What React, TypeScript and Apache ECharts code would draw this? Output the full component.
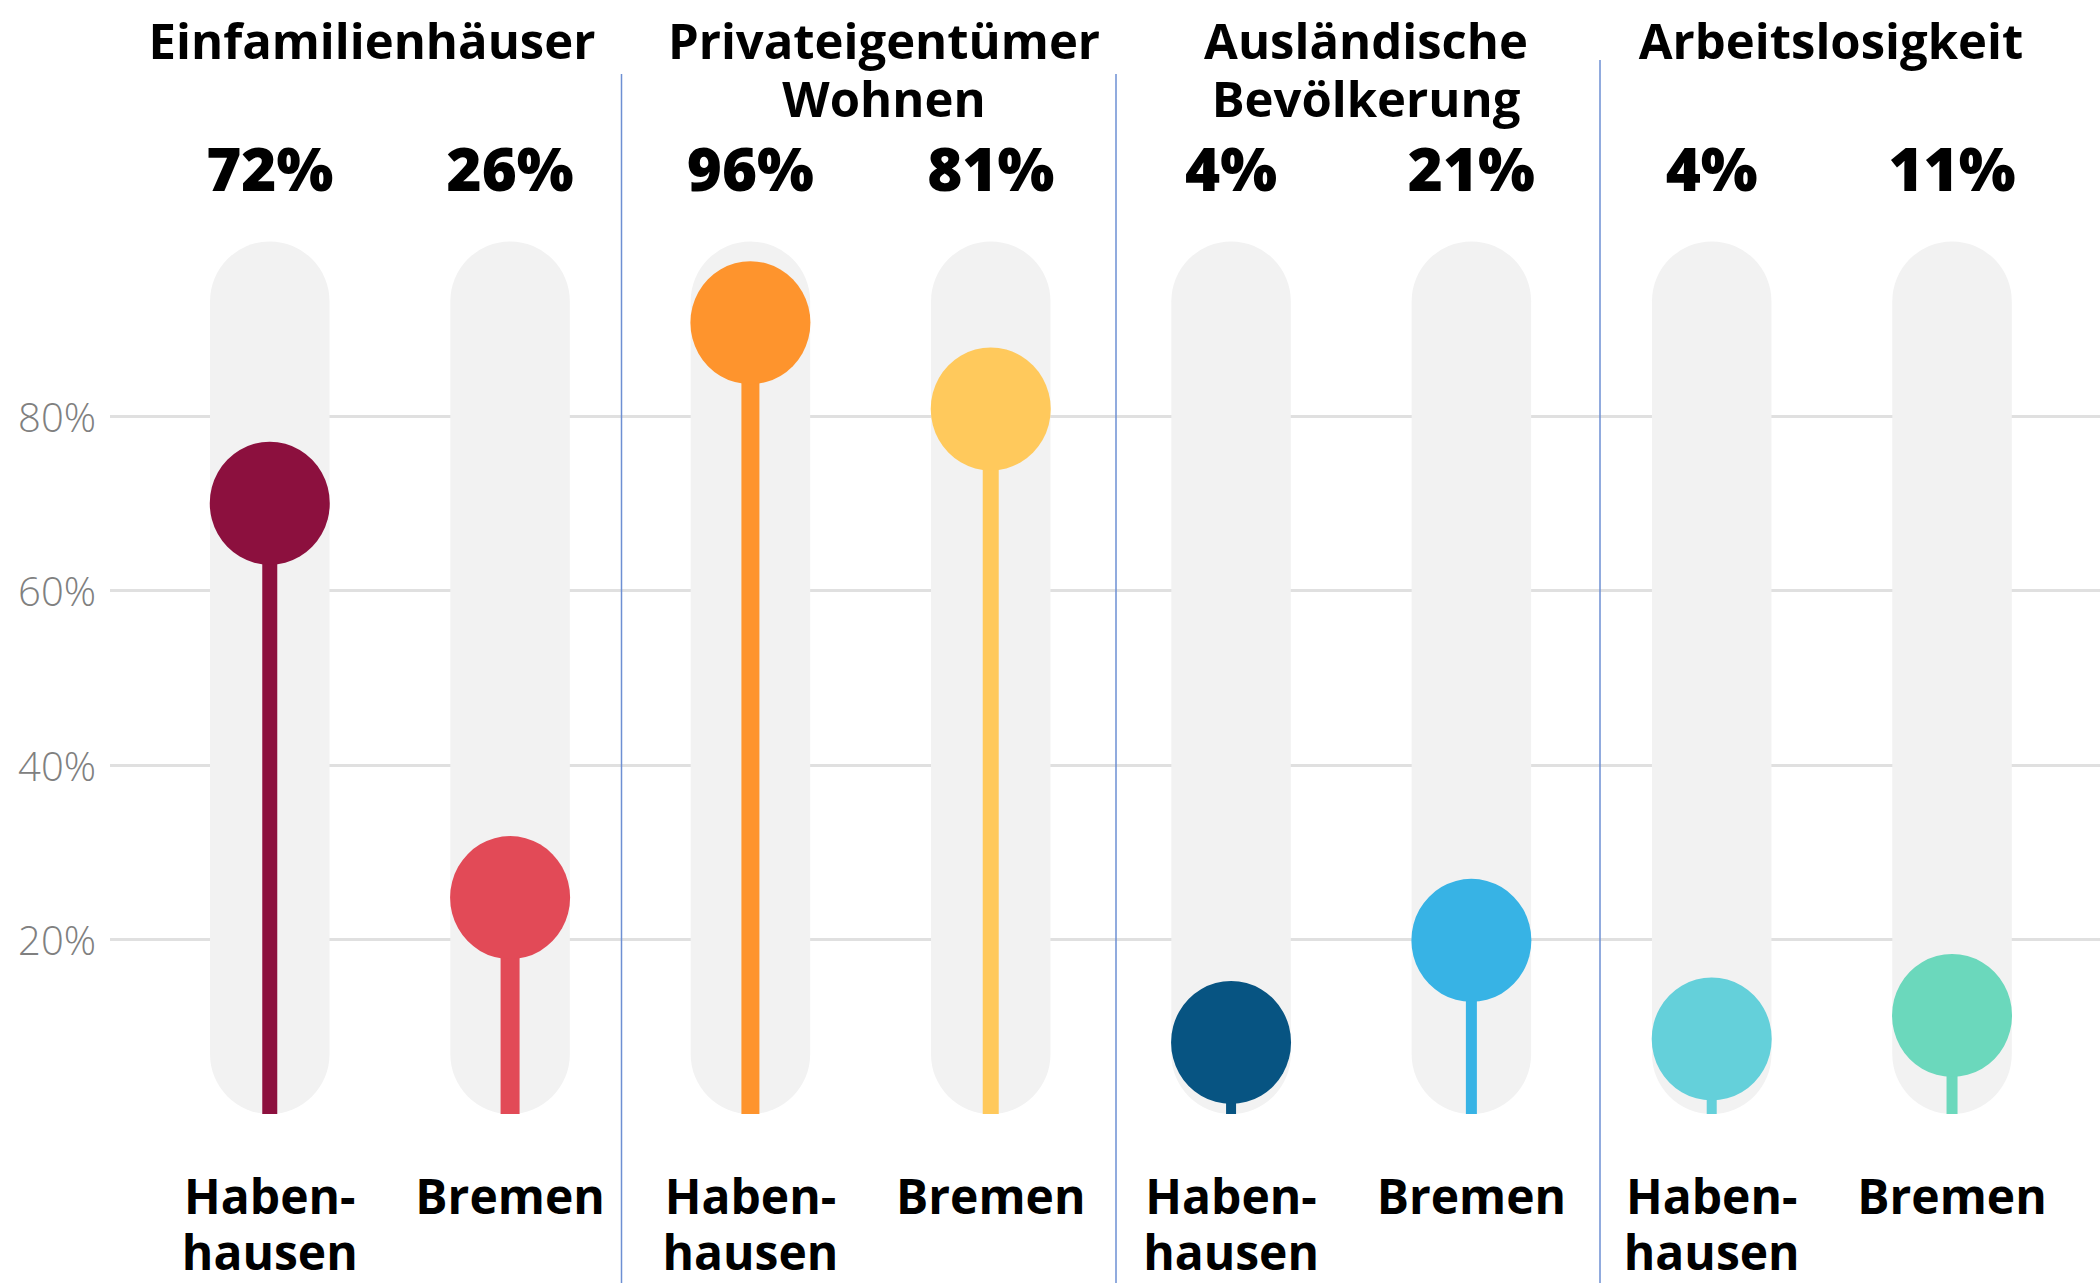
import React, { useEffect, useRef } from "react";
import * as echarts from "echarts";

// ---------- data ----------
const categories = [
  "Haben-\nhausen",
  "Bremen",
  "Haben-\nhausen",
  "Bremen",
  "Haben-\nhausen",
  "Bremen",
  "Haben-\nhausen",
  "Bremen",
];
const valueLabels = ["72%", "26%", "96%", "81%", "4%", "21%", "4%", "11%"];
// marker heights as drawn in the reference (percent of scale)
const markerPos = [70, 24.8, 90.7, 80.8, 8.2, 19.9, 8.6, 11.3];
const trackMax = [100, 100, 100, 100, 100, 100, 100, 100];
const yTicks = [20, 40, 60, 80];
const groupTitles = [
  ["Einfamilienhäuser"],
  ["Privateigentümer", "Wohnen"],
  ["Ausländische", "Bevölkerung"],
  ["Arbeitslosigkeit"],
];

// ---------- styles / layout ----------
const colors = [
  "#8c103e",
  "#e24a57",
  "#fe942d",
  "#ffc95c",
  "#075482",
  "#37b3e5",
  "#64d0da",
  "#6bd8bc",
];
const stemWidths = [15, 19, 18, 16, 10, 11, 10, 11];
const titleX = [372, 884, 1366, 1831];
const separators = [
  { x: 621.5, top: 74 },
  { x: 1116, top: 74 },
  { x: 1600, top: 60 },
];
const FONT = "'Open Sans', 'Noto Sans', sans-serif";

export default function App() {
  const ref = useRef<HTMLDivElement>(null);

  useEffect(() => {
    if (!ref.current) return;
    const chart = echarts.init(ref.current, undefined, { renderer: "svg" });

    const titleGraphics: any[] = [];
    groupTitles.forEach((lines, g) => {
      lines.forEach((line, k) => {
        titleGraphics.push({
          type: "text",
          x: titleX[g],
          y: 40 + k * 58,
          style: {
            text: line,
            fill: "#000",
            font: `bold 49px ${FONT}`,
            textAlign: "center",
            textVerticalAlign: "middle",
          },
        });
      });
    });
    const sepGraphics = separators.map((s) => ({
      type: "line",
      shape: { x1: s.x, y1: s.top, x2: s.x, y2: 1283 },
      style: { stroke: "#6d8fd3", lineWidth: 1.5 },
      z: 10,
    }));

    const option: any = {
      animation: false,
      backgroundColor: "#ffffff",
      textStyle: { fontFamily: FONT },
      grid: [
        { left: 110, right: 0, top: 241.5, bottom: 169 },
        { left: 149.6, right: 27.8, top: 241.5, bottom: 169 },
      ],
      xAxis: [
        { type: "value", gridIndex: 0, min: 0, max: 1, show: false },
        {
          type: "category",
          gridIndex: 1,
          position: "bottom",
          data: categories,
          axisLine: { show: false },
          axisTick: { show: false },
          axisLabel: {
            interval: 0,
            margin: 53,
            fontSize: 48,
            fontWeight: "bold",
            lineHeight: 56,
            color: "#000",
            fontFamily: FONT,
          },
        },
        {
          type: "category",
          gridIndex: 1,
          position: "top",
          data: valueLabels,
          axisLine: { show: false },
          axisTick: { show: false },
          axisLabel: {
            interval: 0,
            margin: 44,
            fontSize: 60,
            fontWeight: 800,
            lineHeight: 60,
            color: "#000",
            fontFamily: FONT,
          },
        },
      ],
      yAxis: [
        {
          type: "value",
          gridIndex: 0,
          min: 0,
          max: 100,
          interval: 20,
          axisLine: { show: false },
          axisTick: { show: false },
          splitLine: {
            show: true,
            showMinLine: false,
            showMaxLine: false,
            lineStyle: { color: "#e0e0e0", width: 3, type: "solid" },
          },
          axisLabel: {
            margin: 14,
            fontSize: 40,
            fontWeight: 300,
            color: "#808080",
            fontFamily: FONT,
            formatter: (v: number) => (yTicks.includes(v) ? `${v}%` : ""),
          },
        },
        {
          type: "value",
          gridIndex: 1,
          min: 0,
          max: 100,
          show: false,
        },
      ],
      series: [
        {
          type: "bar",
          xAxisIndex: 1,
          yAxisIndex: 1,
          data: trackMax,
          barWidth: 119.5,
          itemStyle: { color: "#f2f2f2", borderRadius: 60 },
          silent: true,
          z: 2,
        },
        {
          type: "custom",
          xAxisIndex: 1,
          yAxisIndex: 1,
          data: markerPos.map((v, i) => [i, v]),
          encode: { x: 0, y: 1 },
          z: 3,
          renderItem: (params: any, api: any) => {
            const i = api.value(0);
            const v = api.value(1);
            const top = api.coord([i, v]);
            const bottom = api.coord([i, 0]);
            const w = stemWidths[i];
            return {
              type: "rect",
              shape: {
                x: top[0] - w / 2,
                y: top[1],
                width: w,
                height: bottom[1] - top[1],
              },
              style: { fill: colors[i] },
            };
          },
        },
        {
          type: "scatter",
          xAxisIndex: 1,
          yAxisIndex: 1,
          data: markerPos.map((v, i) => ({
            value: v,
            itemStyle: { color: colors[i], opacity: 1 },
          })),
          symbol: "circle",
          symbolSize: [120, 123],
          z: 4,
        },
      ],
      graphic: [...titleGraphics, ...sepGraphics],
    };

    chart.setOption(option);
    return () => chart.dispose();
  }, []);

  return (
    <div
      ref={ref}
      style={{ position: "absolute", left: 0, top: 0, width: 2100, height: 1283 }}
    />
  );
}
